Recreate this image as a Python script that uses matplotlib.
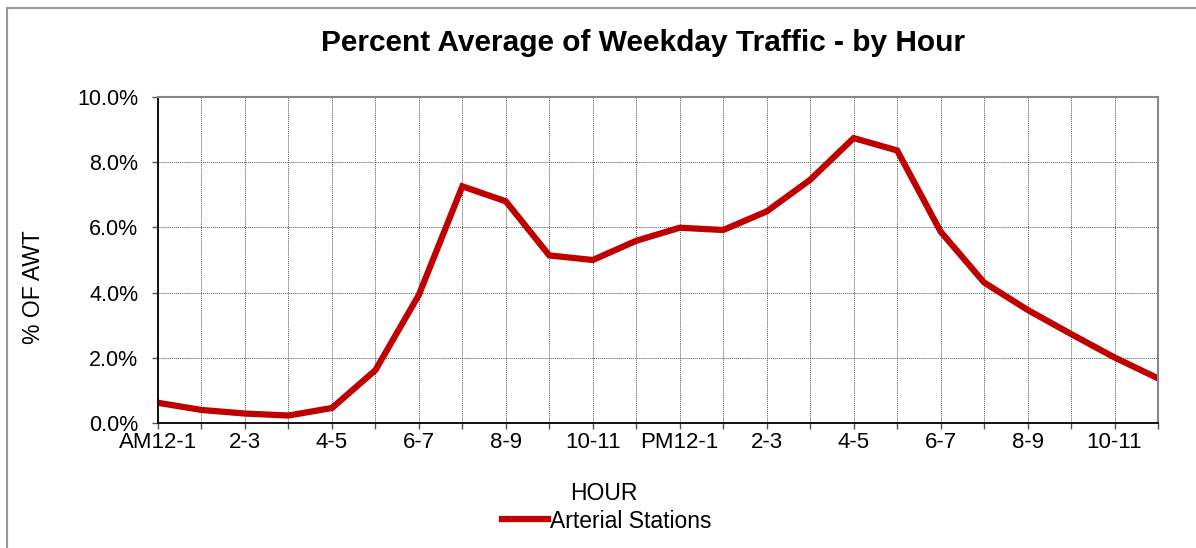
import matplotlib.pyplot as plt
from matplotlib.patches import Rectangle
from matplotlib.ticker import FuncFormatter

# Hour categories and percent of average weekday traffic
hours = ['AM12-1', '1-2', '2-3', '3-4', '4-5', '5-6', '6-7', '7-8', '8-9', '9-10', '10-11', '11-12',
         'PM12-1', '1-2', '2-3', '3-4', '4-5', '5-6', '6-7', '7-8', '8-9', '9-10', '10-11', '11-12']
arterial = [0.62, 0.40, 0.29, 0.23, 0.46, 1.62, 3.93, 7.26, 6.80, 5.14, 5.00, 5.59,
            5.99, 5.92, 6.49, 7.46, 8.74, 8.36, 5.87, 4.31, 3.47, 2.73, 2.01, 1.37]
y_ticks = [0, 2, 4, 6, 8, 10]

red = '#C00000'
plt.rcParams.update({'font.family': ['Liberation Sans', 'DejaVu Sans']})

fig = plt.figure(figsize=(11.96, 5.48), dpi=100)
ax = fig.add_axes([158 / 1196, 125 / 548, 1000 / 1196, 326 / 548])

x = list(range(len(hours)))
line, = ax.plot(x, arterial, color=red, linewidth=4.5, solid_joinstyle='miter', label='Arterial Stations')

ax.set_xlim(0, len(hours) - 1)
ax.set_ylim(0, 10)
ax.set_xticks(x)
ax.set_xticklabels([h if i % 2 == 0 else '' for i, h in enumerate(hours)], fontsize=16)
ax.set_yticks(y_ticks)
ax.yaxis.set_major_formatter(FuncFormatter(lambda v, p: f'{v:.1f}%'))
ax.tick_params(axis='y', labelsize=15.5, length=4.3, width=1, color='#555555', pad=10)
ax.tick_params(axis='x', length=4, width=1, color='#555555', pad=2.5)

# dotted grid like the original spreadsheet chart
ax.grid(True, color='#555555', linestyle=(0, (1, 1)), linewidth=0.7)
ax.set_axisbelow(True)

for side in ['left', 'bottom']:
    ax.spines[side].set_color('black')
    ax.spines[side].set_linewidth(1.3)
for side in ['top', 'right']:
    ax.spines[side].set_color('#888888')
    ax.spines[side].set_linewidth(1.5)

fig.text(643 / 1196, 1 - 43 / 548, 'Percent Average of Weekday Traffic - by Hour',
         fontsize=21.5, fontweight='bold', ha='center', va='center')
fig.text(33 / 1196, 1 - 287 / 548, '% OF AWT', fontsize=16.5, rotation=90, ha='center', va='center')
fig.text(604 / 1196, 1 - 493 / 548, 'HOUR', fontsize=16.5, ha='center', va='center')

fig.legend(handles=[line], loc='center', bbox_to_anchor=(607 / 1196, 1 - 521 / 548),
           frameon=False, fontsize=16.5, handlelength=2.0, handletextpad=0.1, borderpad=0)

# outer chart border (only top and left edges visible in the crop)
fig.patches.append(Rectangle((7 / 1196, -0.1), 1.2, 1 - 8 / 548 + 0.1, transform=fig.transFigure,
                             fill=False, edgecolor='#999999', linewidth=1.5))

fig.savefig('out.png', dpi=100)
